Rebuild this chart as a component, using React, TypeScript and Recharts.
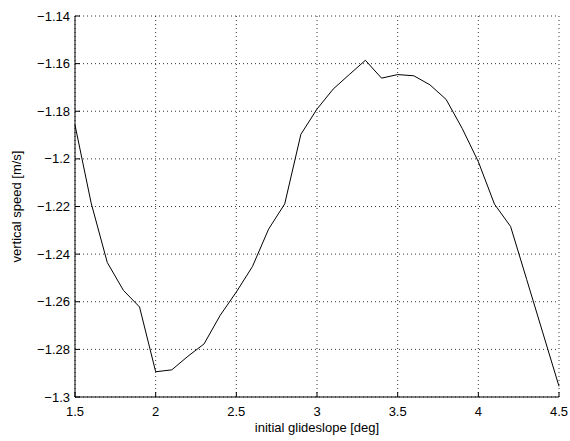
import {
  CartesianGrid,
  Line,
  LineChart,
  XAxis,
  YAxis,
} from 'recharts'

const glideslope = [
  1.5, 1.6, 1.7, 1.8, 1.9, 2.0, 2.1, 2.2, 2.3, 2.4, 2.5, 2.6, 2.7, 2.8, 2.9, 3.0,
  3.1, 3.2, 3.3, 3.4, 3.5, 3.6, 3.7, 3.8, 3.9, 4.0, 4.1, 4.2, 4.3, 4.4, 4.5,
]

const verticalSpeed = [
  -1.1858, -1.2185, -1.2435, -1.2552, -1.2622, -1.2894, -1.2886, -1.2829,
  -1.2777, -1.2657, -1.2559, -1.2452, -1.2295, -1.2189, -1.1897, -1.1791,
  -1.1707, -1.1646, -1.1586, -1.1661, -1.1646, -1.1651, -1.1689, -1.175,
  -1.1872, -1.2012, -1.219, -1.2284, -1.2507, -1.2731, -1.2955,
]

const xTicks = [1.5, 2, 2.5, 3, 3.5, 4, 4.5]
const yTicks = [-1.3, -1.28, -1.26, -1.24, -1.22, -1.2, -1.18, -1.16, -1.14]

const data = glideslope.map((x, i) => ({ x, v: verticalSpeed[i] }))

const fmt = (v: number) => String(v).replace('-', '\u2212')

const family = '"Liberation Sans", Arial, Helvetica, sans-serif'
const labelStyle = { fontFamily: family, fontSize: 13, fill: '#000', textAnchor: 'middle' as const }

export default function App() {
  return (
    <div style={{ position: 'absolute', left: 0, top: 0, background: '#fff', fontFamily: family, fontSize: 13 }}>
      <LineChart
        width={570}
        height={441}
        data={data}
        margin={{ top: 16, right: 11, left: 0, bottom: 0 }}
        style={{ fontFamily: family, fontSize: 13 }}
      >
        <CartesianGrid stroke="#000" strokeDasharray="1 3" strokeWidth={0.8} />
        <XAxis
          dataKey="x"
          type="number"
          domain={[1.5, 4.5]}
          ticks={xTicks}
          tickFormatter={fmt}
          height={44}
          stroke="#000"
          fontSize={13}
          fontFamily={family}
          tickSize={-5}
          tickMargin={15}
          tick={{ fill: '#000', fontSize: 13, fontFamily: family }}
          label={{
            value: 'initial glideslope [deg]',
            position: 'insideBottom',
            offset: 9,
            fontSize: 13,
            style: labelStyle,
          }}
        />
        <XAxis
          xAxisId="top"
          orientation="top"
          dataKey="x"
          type="number"
          domain={[1.5, 4.5]}
          ticks={xTicks}
          height={0}
          stroke="#000"
          tickSize={-5}
          tick={false}
        />
        <YAxis
          type="number"
          domain={[-1.3, -1.14]}
          ticks={yTicks}
          allowDataOverflow
          tickFormatter={fmt}
          width={75}
          stroke="#000"
          fontSize={13}
          fontFamily={family}
          tickSize={-5}
          tickMargin={10}
          tick={{ fill: '#000', fontSize: 13, fontFamily: family }}
          label={{
            value: 'vertical speed [m/s]',
            angle: -90,
            position: 'insideLeft',
            offset: 16,
            fontSize: 13,
            style: labelStyle,
          }}
        />
        <YAxis
          yAxisId="right"
          orientation="right"
          type="number"
          domain={[-1.3, -1.14]}
          ticks={yTicks}
          width={0}
          stroke="#000"
          tickSize={-5}
          tick={false}
        />
        <Line
          type="linear"
          dataKey="v"
          stroke="#000"
          strokeWidth={1}
          dot={false}
          activeDot={false}
          isAnimationActive={false}
        />
      </LineChart>
    </div>
  )
}
